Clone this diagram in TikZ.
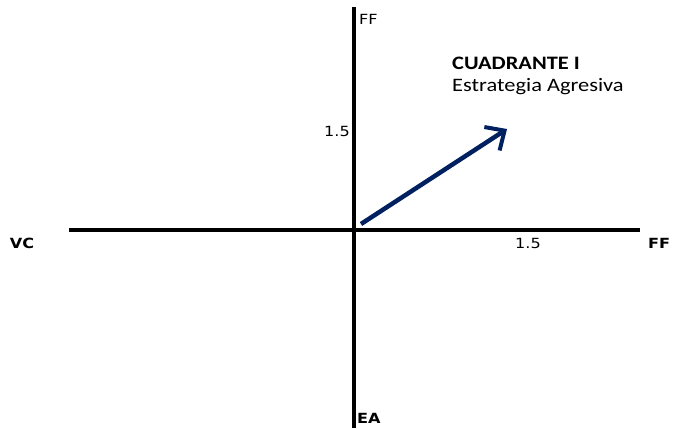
\documentclass[tikz,border=0pt]{standalone}
\usepackage{fontspec}
\setmainfont{DejaVu Sans}
\newfontfamily\calib{Carlito}
\definecolor{navy}{HTML}{002060}
\tikzset{
  axis/.style={line width=4pt},
  lbl/.style={inner sep=0pt, font=\fontsize{14}{16}\selectfont, xscale=1.15},
  blbl/.style={lbl, font=\fontsize{14}{16}\selectfont\bfseries},
  ctext/.style={inner sep=0pt, anchor=west, xscale=1.18, font=\calib\fontsize{19}{22}\selectfont},
  vec/.style={navy, line width=4.5pt, -{Straight Barb[length=15pt,width=28pt,line width=4pt]}}
}
\usetikzlibrary{arrows.meta}
\begin{document}
\begin{tikzpicture}[x=1pt,y=-1pt]
\useasboundingbox (0,0) rectangle (698,428);
\coordinate (vtop) at (354,7);
\coordinate (vbot) at (354,428);
\coordinate (hl) at (69,230);
\coordinate (hr) at (640,230);
\draw[axis] (vtop) -- (vbot);
\draw[axis] (hl) -- (hr);
\coordinate (o) at (361,224);
\coordinate (t) at (507,129);
\draw[vec] (o) -- (t);
\node[lbl, anchor=west] (fftop) at (359,19) {FF};
\node[lbl, anchor=east] (y15) at (350,131) {1.5};
\node[lbl] (x15) at (528,243) {1.5};
\node[blbl] (vc) at (22,243) {VC};
\node[blbl] (ffr) at (659,243) {FF};
\node[blbl, anchor=west] (ea) at (357,418) {EA};
\node[ctext, font=\calib\fontsize{19}{22}\selectfont\bfseries] (cuad) at (452,63) {CUADRANTE I};
\node[ctext] (estr) at (452,87) {Estrategia Agresiva};
\end{tikzpicture}
\end{document}
